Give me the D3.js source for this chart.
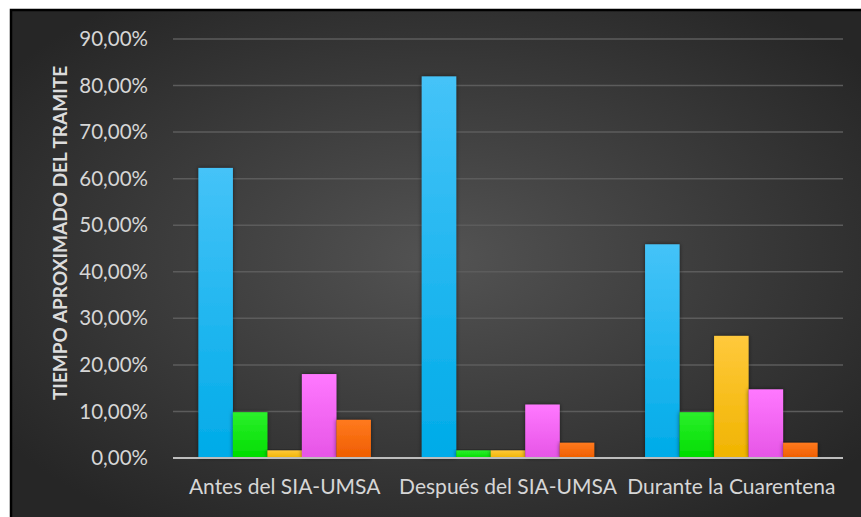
<!DOCTYPE html>
<html>
<head>
<meta charset="utf-8">
<script src="https://cdn.jsdelivr.net/npm/d3@7"></script>
<style>
  html, body { margin: 0; padding: 0; background: #fff; }
  svg { display: block; }
</style>
</head>
<body>
<svg id="chart" width="861" height="517"></svg>
<script>
// Categories on the x axis
const categories = ["Antes del SIA-UMSA", "Después del SIA-UMSA", "Durante la Cuarentena"];
// Response options (one series each), shares in percent
const seriesNames = ["Opción 1", "Opción 2", "Opción 3", "Opción 4", "Opción 5"];
const serie1 = [62.30, 81.97, 45.90];
const serie2 = [9.84, 1.64, 9.84];
const serie3 = [1.64, 1.64, 26.23];
const serie4 = [18.03, 11.48, 14.75];
const serie5 = [8.20, 3.28, 3.28];
const yTicks = [0, 10, 20, 30, 40, 50, 60, 70, 80, 90];
const yTitle = "TIEMPO APROXIMADO DEL TRAMITE";

const seriesValues = [serie1, serie2, serie3, serie4, serie5];
// top / bottom colour of each series' vertical gradient
const colors = [
  ["#45c3f8", "#00abe8"],
  ["#2cf02c", "#00dd00"],
  ["#ffc93c", "#f0b400"],
  ["#ff78ff", "#e655e6"],
  ["#ff7a1e", "#ef5d00"]
];

const svg = d3.select("#chart");
const W = 861, H = 517;

const defs = svg.append("defs");
const bg = defs.append("radialGradient").attr("id", "bg")
  .attr("cx", "50%").attr("cy", "48%").attr("r", "62%");
bg.append("stop").attr("offset", "0%").attr("stop-color", "#535353");
bg.append("stop").attr("offset", "100%").attr("stop-color", "#262626");

colors.forEach((c, i) => {
  const g = defs.append("linearGradient").attr("id", "g" + i)
    .attr("x1", 0).attr("y1", 0).attr("x2", 0).attr("y2", 1);
  g.append("stop").attr("offset", "0%").attr("stop-color", c[0]);
  g.append("stop").attr("offset", "100%").attr("stop-color", c[1]);
});

const sh = defs.append("filter").attr("id", "shadow")
  .attr("x", "-30%").attr("y", "-10%").attr("width", "160%").attr("height", "120%");
sh.append("feDropShadow").attr("dx", 0).attr("dy", 0)
  .attr("stdDeviation", 2.2).attr("flood-color", "#000").attr("flood-opacity", 0.55);

// chart area background and frame
svg.append("rect")
  .attr("x", 11).attr("y", 10).attr("width", W).attr("height", H)
  .attr("fill", "url(#bg)").attr("stroke", "#000").attr("stroke-width", 2.5);

const plot = { left: 173, right: 843, top: 39, bottom: 458 };

const x0 = d3.scaleBand().domain(categories)
  .range([plot.left, plot.right]).paddingInner(0.2275).paddingOuter(0.11375);
const x1 = d3.scaleBand().domain(d3.range(seriesNames.length))
  .range([0, x0.bandwidth()]);
const y = d3.scaleLinear().domain([0, 90]).range([plot.bottom, plot.top]);

const fmt = v => d3.format(".2f")(v).replace(".", ",") + "%";
const font = "Lato, 'Open Sans', sans-serif";

// gridlines
svg.append("g")
  .selectAll("line").data(yTicks.filter(t => t > 0)).join("line")
  .attr("x1", plot.left).attr("x2", plot.right)
  .attr("y1", d => y(d)).attr("y2", d => y(d))
  .attr("stroke", "#5c5c5c").attr("stroke-width", 1.5);

// y axis labels
const yAxis = svg.append("g")
  .attr("transform", `translate(${plot.left - 25},0)`)
  .call(d3.axisLeft(y).tickValues(yTicks).tickFormat(fmt).tickSize(0).tickPadding(0));
yAxis.select(".domain").remove();
yAxis.selectAll("text")
  .attr("fill", "#d6d6d6").attr("font-family", font).attr("font-size", 20.5);

// bars
const groups = svg.append("g").selectAll("g").data(categories).join("g")
  .attr("transform", d => `translate(${x0(d)},0)`);
groups.selectAll("rect")
  .data((d, ci) => seriesValues.map((s, si) => ({ si, v: s[ci] })))
  .join("rect")
  .attr("x", d => x1(d.si))
  .attr("width", x1.bandwidth())
  .attr("y", d => y(d.v))
  .attr("height", d => y(0) - y(d.v))
  .attr("fill", d => `url(#g${d.si})`)
  .attr("filter", "url(#shadow)");

// baseline
svg.append("line")
  .attr("x1", plot.left).attr("x2", plot.right)
  .attr("y1", y(0)).attr("y2", y(0))
  .attr("stroke", "#bdbdbd").attr("stroke-width", 2);

// x axis labels
const xAxis = svg.append("g")
  .attr("transform", `translate(0,${plot.bottom})`)
  .call(d3.axisBottom(x0).tickSize(0).tickPadding(21));
xAxis.select(".domain").remove();
xAxis.selectAll("text")
  .attr("fill", "#d6d6d6").attr("font-family", font).attr("font-size", 21);

// y axis title
svg.append("text")
  .attr("transform", `translate(67,233) rotate(-90)`)
  .attr("text-anchor", "middle")
  .attr("fill", "#dcdcdc").attr("font-family", font).attr("font-weight", "bold")
  .attr("font-size", 19)
  .text(yTitle);
</script>
</body>
</html>
